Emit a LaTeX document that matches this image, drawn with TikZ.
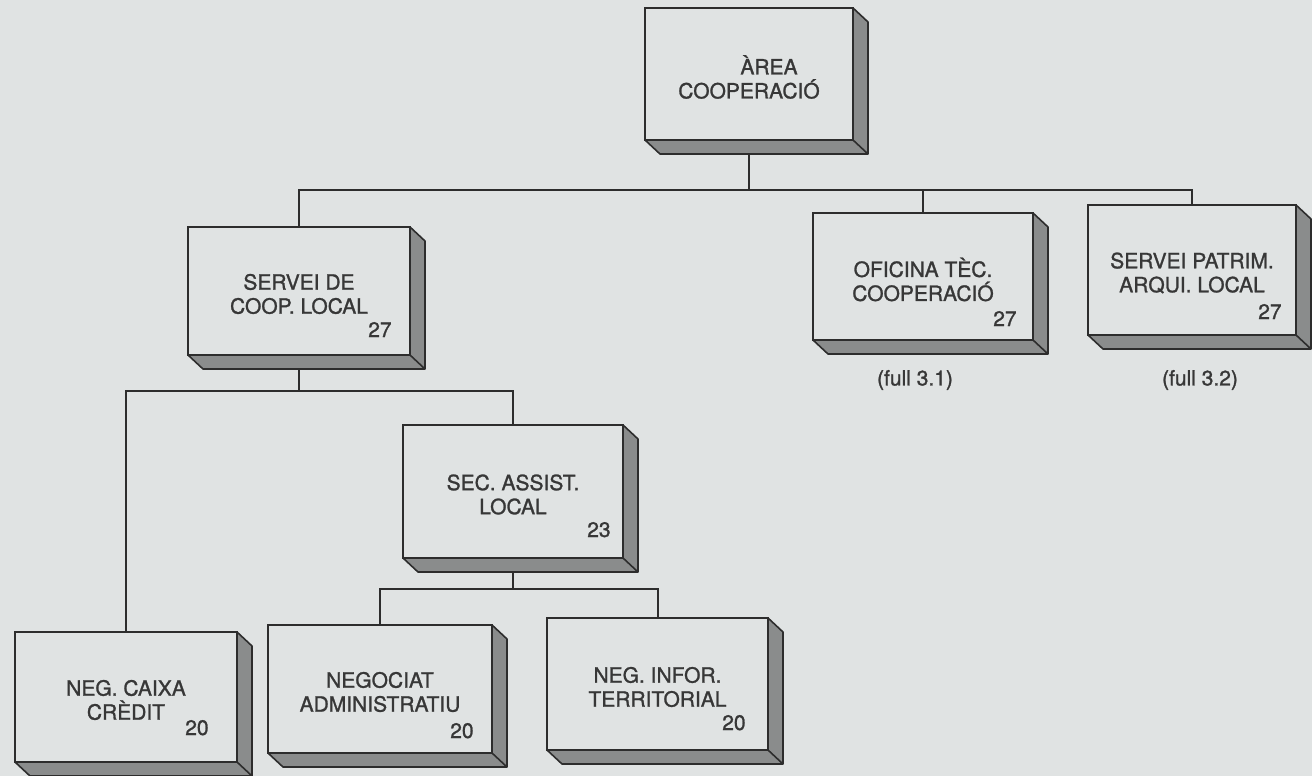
\documentclass[tikz,border=0pt]{standalone}
\usepackage{fontspec}
\setmainfont{TeX Gyre Heros}
\newfontfamily\orgfont{TeX Gyre Heros}[BoldFont={TeX Gyre Heros}, BoldFeatures={FakeBold=1.2}]
\usetikzlibrary{calc}
\definecolor{bg}{RGB}{224,227,227}
\definecolor{ink}{RGB}{45,45,45}
\definecolor{txt}{RGB}{55,55,55}
\definecolor{shade}{RGB}{138,140,140}
\tikzset{
  front/.style={draw=ink, line width=1pt, fill=bg, inner sep=0pt, outer sep=0pt},
  lbl/.style={text=txt, font=\orgfont\bfseries\fontsize{10.5}{12}\selectfont, align=center, inner sep=0pt},
  num/.style={text=txt, font=\orgfont\bfseries\fontsize{10.5}{12}\selectfont, inner sep=0pt, anchor=base east},
  link/.style={draw=ink, line width=1pt},
  side/.style={fill=shade, draw=ink, line width=0.8pt, line join=round},
}
% name, x, y, w, h, text, number, number dx from right, number dy from bottom
\newcommand\orgbox[9]{%
  \node[front, minimum width=#4*0.5pt, minimum height=#5*0.5pt, anchor=north west] (#1) at (#2,#3) {};
  \filldraw[side] (#1.north east) -- ++(15,14) -- ($(#1.south east)+(15,14)$) -- ($(#1.south west)+(15,14)$) -- (#1.south west) -- (#1.south east) -- cycle;
  \draw[side, fill=none] (#1.south east) -- ++(15,14);
  \node[lbl] (#1-t) at ($(#1.center)+(0,3)$) {#6};
  \node[num] (#1-n) at ($(#1.south east)+(-#8,-#9)$) {#7};
}
\begin{document}
\begin{tikzpicture}[x=0.5pt, y=-0.5pt]
\fill[bg] (0,0) rectangle (1312,776);
\useasboundingbox (0,0) rectangle (1312,776);

\orgbox{area}{645}{8}{208}{132}{\hspace*{20pt}ÀREA\\COOPERACIÓ}{}{20}{20}
\orgbox{coop}{188}{227}{222}{128}{SERVEI DE\\COOP. LOCAL}{27}{18}{18}
\orgbox{oficina}{813}{213}{220}{127}{OFICINA TÈC.\\COOPERACIÓ}{27}{16}{14}
\orgbox{patrim}{1088}{205}{208}{130}{SERVEI PATRIM.\\ARQUI. LOCAL}{27}{14}{16}
\orgbox{sec}{403}{425}{220}{133}{SEC. ASSIST.\\LOCAL}{23}{12}{21}
\orgbox{caixa}{15}{632}{222}{130}{NEG. CAIXA\\CRÈDIT}{20}{28}{27}
\orgbox{admin}{268}{625}{224}{128}{NEGOCIAT\\ADMINISTRATIU}{20}{18}{15}
\orgbox{infor}{547}{618}{221}{132}{NEG. INFOR.\\TERRITORIAL}{20}{22}{20}

\node[lbl] (full1) at (915,380) {(full 3.1)};
\node[lbl] (full2) at (1200,380) {(full 3.2)};

\coordinate (bus1) at (0,190);
\coordinate (bus2) at (0,391);
\coordinate (bus3) at (0,589);

\draw[link] ($(area.south)+(0,14)$) -- (area.south |- bus1);
\draw[link] (coop.north) |- (patrim.north |- bus1) -- (patrim.north);
\draw[link] (oficina.north) -- (oficina.north |- bus1);

\draw[link] ($(coop.south)+(0,14)$) -- (coop.south |- bus2);
\draw[link] (caixa.north) |- (sec.north |- bus2) -- (sec.north);

\draw[link] ($(sec.south)+(0,14)$) -- (sec.south |- bus3);
\draw[link] (admin.north) |- (infor.north |- bus3) -- (infor.north);
\end{tikzpicture}
\end{document}
